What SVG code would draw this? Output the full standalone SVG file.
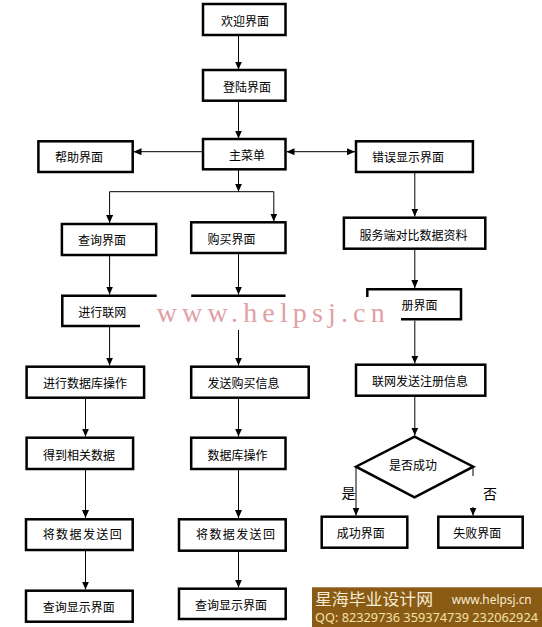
<svg xmlns="http://www.w3.org/2000/svg" width="542" height="627" viewBox="0 0 542 627">
<defs>
<marker id="ah" markerUnits="userSpaceOnUse" viewBox="0 0 8 7" refX="8" refY="3.5" markerWidth="8" markerHeight="7" orient="auto-start-reverse">
<path d="M0,0 L8,3.5 L0,7 z" fill="#000"/>
</marker>
<style>
.b{fill:#fff;stroke:#000;stroke-width:2.5}
.p{fill:none;stroke:#000;stroke-width:2.5}
.t{font-family:"Noto Sans CJK SC","Noto Sans",sans-serif;font-size:12px;fill:#000}
.t2{font-family:"Noto Sans CJK SC","Noto Sans",sans-serif;font-size:14px;fill:#000}
.c{fill:none;stroke:#000;stroke-width:1}
.a{fill:none;stroke:#000;stroke-width:1;marker-end:url(#ah)}
</style>
</defs>
<rect width="542" height="627" fill="#fff"/>
<g id="connectors">
<line class="a" x1="238.5" y1="35" x2="238.5" y2="69.5"/>
<line class="a" x1="238.5" y1="101" x2="238.5" y2="138.5"/>
<line class="a" x1="203" y1="151.7" x2="133.5" y2="151.7"/>
<line class="a" x1="286.5" y1="151.7" x2="355" y2="151.7" style="marker-start:url(#ah)"/>
<line class="a" x1="238.5" y1="170" x2="238.5" y2="191.7"/>
<line class="c" x1="109.6" y1="191.7" x2="273.8" y2="191.7"/>
<line class="a" x1="109.6" y1="191.7" x2="109.6" y2="223"/>
<line class="a" x1="273.8" y1="191.7" x2="273.8" y2="221.5"/>
<line class="a" x1="414.8" y1="172.5" x2="414.8" y2="216.5"/>
<line class="a" x1="109.6" y1="256" x2="109.6" y2="294.5"/>
<line class="a" x1="238.5" y1="254" x2="238.5" y2="294.5"/>
<line class="a" x1="414.8" y1="249.5" x2="414.8" y2="288"/>
<line class="a" x1="109.6" y1="327" x2="109.6" y2="365.5"/>
<line class="a" x1="238.5" y1="330" x2="238.5" y2="365.5"/>
<line class="a" x1="414.8" y1="320.5" x2="414.8" y2="363.5"/>
<line class="a" x1="85.5" y1="398.5" x2="85.5" y2="436.5"/>
<line class="a" x1="238.5" y1="398.5" x2="238.5" y2="436.5"/>
<line class="a" x1="414.8" y1="396.5" x2="414.8" y2="435.5"/>
<line class="a" x1="85.5" y1="470" x2="85.5" y2="518"/>
<line class="a" x1="238.5" y1="470" x2="238.5" y2="518"/>
<line class="a" x1="85.5" y1="551" x2="85.5" y2="589.5"/>
<line class="a" x1="238.5" y1="551.5" x2="238.5" y2="587.5"/>
<line class="a" x1="356" y1="466.7" x2="356" y2="515.5"/>
<line class="c" x1="473" y1="466.7" x2="473" y2="476"/>
<line class="a" x1="473" y1="507" x2="473" y2="515.5"/>
</g>
<g id="n-welcome"><rect class="b" x="203" y="4" width="82.5" height="31"/><text class="t" x="221" y="25.5">欢迎界面</text></g>
<g id="n-login"><rect class="b" x="203" y="70" width="82.5" height="30.7"/><text class="t" x="223" y="91.5">登陆界面</text></g>
<g id="n-menu"><rect class="b" x="203" y="139" width="82.5" height="30.3"/><text class="t" x="229" y="160">主菜单</text></g>
<g id="n-help"><rect class="b" x="38.4" y="141.3" width="94.3" height="30.7"/><text class="t" x="55" y="161.5">帮助界面</text></g>
<g id="n-error"><rect class="b" x="356" y="141.3" width="116.9" height="30.7"/><text class="t" x="372" y="161.5">错误显示界面</text></g>
<g id="n-query"><rect class="b" x="61.9" y="224" width="94.3" height="31"/><text class="t" x="78" y="245">查询界面</text></g>
<g id="n-buy"><rect class="b" x="191.2" y="222.3" width="94.3" height="30.7"/><text class="t" x="207.5" y="243.5">购买界面</text></g>
<g id="n-server"><rect class="b" x="343.9" y="217.7" width="141.4" height="31"/><text class="t" x="359.5" y="239.5">服务端对比数据资料</text></g>
<g id="n-net1"><path class="p" d="M140,326 H62.3 V295.7 H156.7"/><text class="t" x="78.3" y="317">进行联网</text></g>
<g id="n-net2"><path class="p" d="M191.2,295.7 H285.5"/></g>
<g id="n-reg"><path class="p" d="M367.3,297 V289.3 H461 V319.3 H401"/><text class="t" x="401.5" y="310">册界面</text></g>
<g id="n-dbop1"><rect class="b" x="26.6" y="366.7" width="117.5" height="31"/><text class="t" x="43" y="387.5">进行数据库操作</text></g>
<g id="n-sendbuy"><rect class="b" x="191.2" y="366.7" width="117.5" height="31"/><text class="t" x="207.5" y="387.5">发送购买信息</text></g>
<g id="n-sendreg"><rect class="b" x="356" y="364.7" width="129.3" height="31"/><text class="t" x="372" y="385.5">联网发送注册信息</text></g>
<g id="n-getdata"><rect class="b" x="26.6" y="437.7" width="106.5" height="31.3"/><text class="t" x="43" y="460">得到相关数据</text></g>
<g id="n-dbop2"><rect class="b" x="191.2" y="437.7" width="94.3" height="31.3"/><text class="t" x="207.5" y="460">数据库操作</text></g>
<g id="n-decide"><path class="b" d="M414.5,436.7 L473.3,466.7 L414.5,497.3 L356,466.7 Z"/><text class="t" x="389" y="469.5">是否成功</text></g>
<g id="n-ok"><rect class="b" x="321.7" y="516.7" width="85.6" height="31"/><text class="t" x="336.7" y="538">成功界面</text></g>
<g id="n-fail"><rect class="b" x="438.3" y="516.7" width="84.4" height="31"/><text class="t" x="453.3" y="538">失败界面</text></g>
<g id="labels"><text class="t2" x="341.5" y="497.5">是</text><text class="t2" x="483" y="498.5">否</text></g>
<g id="n-send1"><rect class="b" x="26" y="519.3" width="106.7" height="30.7"/><text class="t" x="42.7" y="539.3" letter-spacing="1.4">将数据发送回</text></g>
<g id="n-send2"><rect class="b" x="179" y="519.3" width="106.7" height="31.4"/><text class="t" x="196" y="539.3" letter-spacing="1.4">将数据发送回</text></g>
<g id="n-show1"><rect class="b" x="26" y="590.7" width="106.7" height="31"/><text class="t" x="42.7" y="611.5">查询显示界面</text></g>
<g id="n-show2"><rect class="b" x="179" y="588.7" width="106.7" height="30.3"/><text class="t" x="195" y="610">查询显示界面</text></g>
<g id="watermark"><text x="156.7" y="321.5" font-family="Liberation Serif, serif" font-size="28" fill="#e2a0a4" textLength="228" lengthAdjust="spacing">www.helpsj.cn</text></g>
<g id="banner">
<rect x="312" y="587.3" width="230" height="39.7" fill="#8a5b14"/>
<text x="315" y="605" font-family="Noto Sans CJK SC, sans-serif" font-size="16" fill="#f8ecd4" textLength="118" lengthAdjust="spacingAndGlyphs">星海毕业设计网</text>
<text x="451.7" y="603.5" font-family="Noto Sans, sans-serif" font-size="12" fill="#f8ecd4" textLength="80" lengthAdjust="spacingAndGlyphs">www.helpsj.cn</text>
<text x="315" y="622" font-family="Noto Sans, sans-serif" font-size="13" fill="#f2e2a8" textLength="223" lengthAdjust="spacingAndGlyphs">QQ: 82329736  359374739  232062924</text>
</g>
</svg>
